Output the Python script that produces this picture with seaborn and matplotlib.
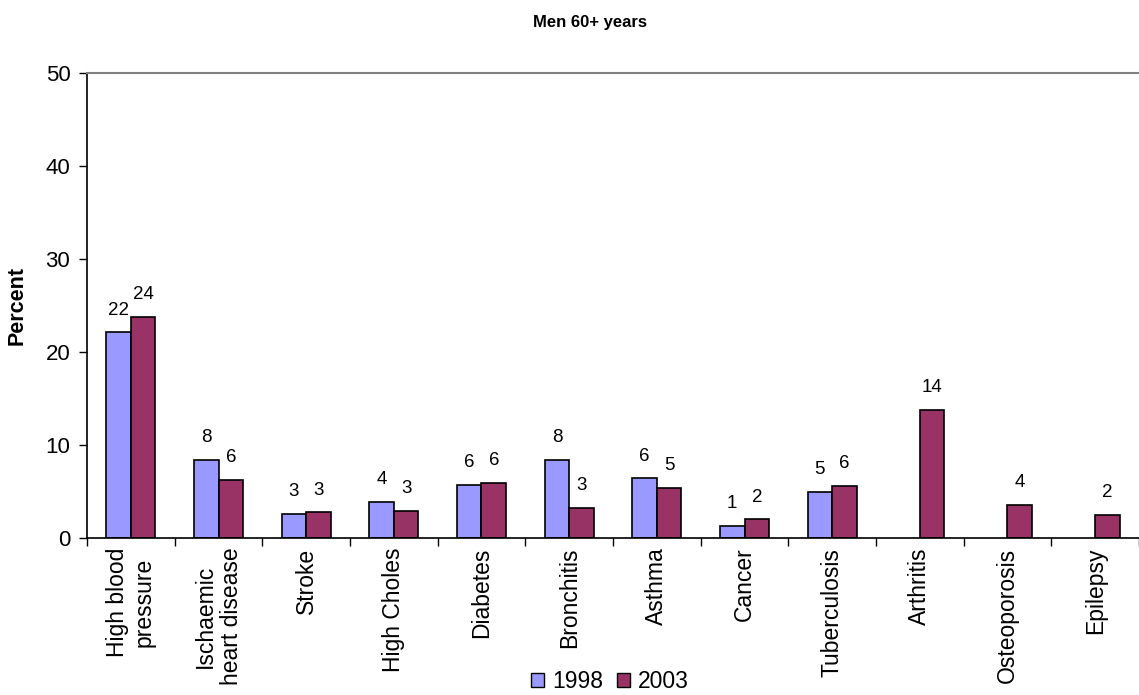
import numpy as np
import pandas as pd
import matplotlib
matplotlib.use("Agg")
import matplotlib.pyplot as plt
import seaborn as sns

categories = ["High blood\npressure", "Ischaemic\nheart disease", "Stroke", "High Choles",
              "Diabetes", "Bronchitis", "Asthma", "Cancer", "Tuberculosis",
              "Arthritis", "Osteoporosis", "Epilepsy"]
years = ["1998", "2003"]
values_1998 = [22.1, 8.4, 2.6, 3.85, 5.75, 8.4, 6.4, 1.25, 4.95, np.nan, np.nan, np.nan]
values_2003 = [23.75, 6.2, 2.75, 2.9, 5.9, 3.25, 5.4, 2.0, 5.55, 13.75, 3.55, 2.45]
yticks = [0, 10, 20, 30, 40, 50]

df = pd.DataFrame({
    "category": categories * 2,
    "year": [years[0]] * len(categories) + [years[1]] * len(categories),
    "value": values_1998 + values_2003,
})

sns.set_theme(style="white")
plt.rcParams["font.family"] = ["Liberation Sans", "DejaVu Sans"]
plt.rcParams["text.color"] = "black"
plt.rcParams["axes.labelcolor"] = "black"
plt.rcParams["xtick.color"] = "black"
plt.rcParams["ytick.color"] = "black"

fig = plt.figure(figsize=(11.39, 6.95), dpi=100)
ax = fig.add_axes([87 / 1139, 1 - 538 / 695, 1 - 87 / 1139, (538 - 73) / 695])

palette = {"1998": "#9999FF", "2003": "#993366"}
sns.barplot(data=df, x="category", y="value", hue="year", order=categories,
            hue_order=years, palette=palette, width=0.56, saturation=1,
            edgecolor="black", linewidth=1.2, ax=ax, legend=True)

for cont in ax.containers:
    for bar in cont:
        if bar is None:
            continue
        h = bar.get_height()
        if not np.isfinite(h):
            continue
        ax.annotate(f"{h:.0f}", xy=(bar.get_x() + bar.get_width() / 2, h),
                    xytext=(0, 10), textcoords="offset points",
                    ha="center", va="bottom", fontsize=13.5, color="black")

ax.set_xlim(-0.5, len(categories) - 0.5)
ax.set_ylim(0, 50)
ax.set_yticks(yticks)
ax.set_yticklabels([str(t) for t in yticks], fontsize=16)
ax.set_xticks(np.arange(len(categories)))
ax.set_xticklabels(categories, rotation=90, fontsize=16.5, va="top", ha="center")
ax.set_xlabel("")
ax.set_ylabel("Percent", fontsize=15.5, fontweight="bold")
ax.yaxis.set_label_coords(-0.056, 0.5)

# ticks between categories on x
ax.set_xticks(np.arange(len(categories) + 1) - 0.5, minor=True)
ax.tick_params(axis="x", which="major", length=0, pad=7)
ax.tick_params(axis="x", which="minor", length=6, width=1, color="black", direction="out", bottom=True)
ax.tick_params(axis="y", length=6, width=1, color="black", direction="out", left=True, pad=6)

for s in ["left", "bottom"]:
    ax.spines[s].set_color("black")
    ax.spines[s].set_linewidth(1.2)
ax.spines["top"].set_color("#808080")
ax.spines["top"].set_linewidth(1.5)
ax.spines["right"].set_visible(False)

ax.get_legend().remove()
handles = [plt.Rectangle((0, 0), 1, 1, facecolor=palette[y], edgecolor="black", linewidth=1) for y in years]
fig.legend(handles, years, loc="center", bbox_to_anchor=(610 / 1139, 1 - 682 / 695), ncol=2,
           frameon=False, fontsize=16.5, handlelength=0.57, handleheight=0.57,
           handletextpad=0.35, columnspacing=0.6, borderpad=0)

fig.text(590 / 1139, 1 - 22 / 695, "Men 60+ years", ha="center", va="center",
         fontsize=12, fontweight="bold")

fig.savefig("out.png", dpi=100)
